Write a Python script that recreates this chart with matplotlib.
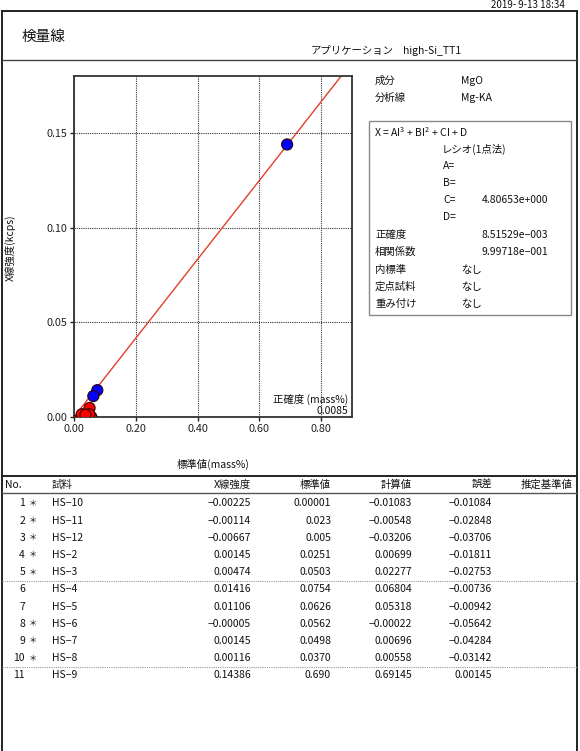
import matplotlib
matplotlib.use("Agg")
import matplotlib.pyplot as plt
from matplotlib.lines import Line2D
from matplotlib.patches import Rectangle
import numpy as np

plt.rcParams['font.family'] = ['Noto Sans CJK JP', 'DejaVu Sans']
plt.rcParams['mathtext.default'] = 'regular'
plt.rcParams['axes.unicode_minus'] = True

# ---------------- data ----------------
sample_no = [1, 2, 3, 4, 5, 6, 7, 8, 9, 10, 11]
excluded = [True, True, True, True, True, False, False, True, True, True, False]
sample_names = ["HS-10", "HS-11", "HS-12", "HS-2", "HS-3", "HS-4", "HS-5",
                "HS-6", "HS-7", "HS-8", "HS-9"]
xray_intensity = [-0.00225, -0.00114, -0.00667, 0.00145, 0.00474, 0.01416,
                  0.01106, -0.00005, 0.00145, 0.00116, 0.14386]
standard_text = ["0.00001", "0.023", "0.005", "0.0251", "0.0503", "0.0754",
                 "0.0626", "0.0562", "0.0498", "0.0370", "0.690"]
calculated = [-0.01083, -0.00548, -0.03206, 0.00699, 0.02277, 0.06804,
              0.05318, -0.00022, 0.00696, 0.00558, 0.69145]
error = [-0.01084, -0.02848, -0.03706, -0.01811, -0.02753, -0.00736,
         -0.00942, -0.05642, -0.04284, -0.03142, 0.00145]
standard = [float(s) for s in standard_text]

coef_C = 4.80653
accuracy_text = "0.0085"
x_ticks = [0.0, 0.2, 0.4, 0.6, 0.8]
y_ticks = [0.0, 0.05, 0.10, 0.15]

W, H = 580, 751
fig = plt.figure(figsize=(W / 100, H / 100), dpi=100)
FS = 7.5


def fx(x):
    return x / W


def fy(y):
    return 1 - y / H


def txt(x, y, s, ha='left', va='center', size=FS, **kw):
    fig.text(fx(x), fy(y), s, ha=ha, va=va, fontsize=size, color='#111111', **kw)


def hline(y, x0, x1, lw=1.0, color='#333333', ls='-'):
    fig.add_artist(Line2D([fx(x0), fx(x1)], [fy(y), fy(y)], lw=lw, color=color,
                          ls=ls, transform=fig.transFigure))


def vline(x, y0, y1, lw=1.0, color='#333333'):
    fig.add_artist(Line2D([fx(x), fx(x)], [fy(y0), fy(y1)], lw=lw, color=color,
                          transform=fig.transFigure))


# ---------------- frame & header ----------------
hline(11, 2, 577, lw=1.4, color='#222222')
vline(2, 11, 751, lw=1.4, color='#222222')
vline(577, 11, 751, lw=1.4, color='#222222')
hline(60, 2, 577, lw=1.0, color='#444444')
txt(565, 5, "2019- 9-13 18:34", ha='right', va='center', size=7.0)
txt(22, 37, "検量線", size=10.5)
txt(311, 51, "アプリケーション", size=FS)
txt(403, 51, "high-Si_TT1", size=FS)

# ---------------- plot ----------------
ax = fig.add_axes([fx(74), fy(417), (352 - 74) / W, (417 - 76) / H])
ax.set_xlim(0, 0.9)
ax.set_ylim(0, 0.18)
xs = np.array([0.0, 0.9])
ax.plot(xs, xs / coef_C, color='#E0402A', lw=1.0, zorder=2)
cols = ['#FF0000' if e else '#0000FF' for e in excluded]
order = [i for i in range(len(sample_no)) if excluded[i]] + \
        [i for i in range(len(sample_no)) if not excluded[i]]
ax.scatter([standard[i] for i in order], [xray_intensity[i] for i in order],
           s=64, c=[cols[i] for i in order], edgecolors='#330000',
           linewidths=0.8, zorder=3)
ax.set_xticks(x_ticks)
ax.set_xticklabels([f"{v:.2f}" for v in x_ticks])
ax.set_yticks(y_ticks)
ax.set_yticklabels([f"{v:.2f}" for v in y_ticks])
ax.tick_params(direction='out', length=3, width=1, labelsize=7.8,
               colors='#222222', pad=2)
ax.grid(True, color='#333333', ls=(0, (1, 1)), lw=0.8)
for sp in ax.spines.values():
    sp.set_color('#333333')
    sp.set_linewidth(1.3)
ax.text(0.985, 0.052, "正確度 (mass%)", transform=ax.transAxes, ha='right',
        va='center', fontsize=FS, color='#111111')
ax.text(0.985, 0.018, accuracy_text, transform=ax.transAxes, ha='right',
        va='center', fontsize=FS, color='#111111')
txt(213, 464, "標準値(mass%)", ha='center')
fig.text(fx(10), fy(248), "X線強度(kcps)", rotation=90, ha='center',
         va='center', fontsize=FS, color='#111111')

# ---------------- right panel ----------------
txt(375, 81, "成分")
txt(461, 81, "MgO")
txt(375, 98, "分析線")
txt(461, 98, "Mg-KA")
fig.add_artist(Rectangle((fx(369), fy(315)), (571 - 369) / W, (315 - 121) / H,
                         fill=False, ec='#888888', lw=1.0,
                         transform=fig.transFigure))
txt(374, 132, "X = AI$^{3}$ + BI$^{2}$ + CI + D")
txt(442, 149, "レシオ(1点法)")
txt(443, 166, "A=")
txt(443, 183, "B=")
txt(443, 200, "C=")
txt(482, 200, f"{coef_C:.5f}e+000")
txt(443, 217, "D=")
txt(375, 235, "正確度")
txt(482, 235, "8.51529e\u2212003")
txt(375, 252, "相関係数")
txt(482, 252, "9.99718e\u2212001")
txt(375, 270, "内標準")
txt(461, 270, "なし")
txt(375, 287, "定点試料")
txt(461, 287, "なし")
txt(375, 304, "重み付け")
txt(461, 304, "なし")

# ---------------- table ----------------
hline(476, 2, 577, lw=1.4, color='#222222')
hline(493, 2, 577, lw=1.0, color='#555555')
hy = 485
txt(5, hy, "No.")
txt(52, hy, "試料")
txt(251, hy, "X線強度", ha='right')
txt(331, hy, "標準値", ha='right')
txt(412, hy, "計算値", ha='right')
txt(492, hy, "誤差", ha='right')
txt(573, hy, "推定基準値", ha='right')


def fmt(v):
    s = f"{v:.5f}"
    return s.replace('-', '\u2212')


row0, dy = 503.3, 17.2
for i in range(len(sample_no)):
    y = row0 + i * dy
    txt(25, y, str(sample_no[i]), ha='right')
    if excluded[i]:
        txt(33, y, "＊", ha='center', size=6)
    txt(52, y, sample_names[i].replace('-', '\u2212'))
    txt(251, y, fmt(xray_intensity[i]), ha='right')
    txt(331, y, standard_text[i], ha='right')
    txt(412, y, fmt(calculated[i]), ha='right')
    txt(492, y, fmt(error[i]), ha='right')
    if i in (4, 9):
        hline(y + dy / 2, 2, 577, lw=0.8, color='#999999', ls=(0, (1, 1)))

fig.savefig("out.png", dpi=100)
